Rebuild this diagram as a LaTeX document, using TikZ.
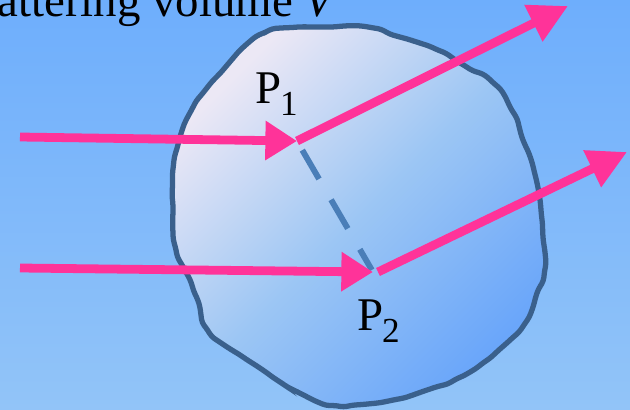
\documentclass[tikz,border=0pt]{standalone}
\usepackage{fontspec}
\setmainfont{Liberation Serif}
\usetikzlibrary{arrows.meta,decorations.pathmorphing}

\definecolor{bgtop}{RGB}{110,174,252}
\definecolor{bgbot}{RGB}{146,196,248}
\definecolor{blobtop}{RGB}{236,232,245}
\definecolor{blobmid}{RGB}{156,198,244}
\definecolor{blobbot}{RGB}{106,166,250}
\definecolor{blobedge}{RGB}{58,96,140}
\definecolor{pathline}{RGB}{74,126,184}
\definecolor{beampink}{RGB}{255,51,153}

\newcommand{\lowsub}[1]{\kern-1pt\raisebox{-0.26em}{\fontsize{30}{30}\selectfont #1}}

\begin{document}
\begin{tikzpicture}[x=0.03cm, y=-0.03cm,
    beam/.style={line width=7.5pt, draw=beampink},
    lbl/.style={inner sep=0pt, font=\fontsize{40}{48}\selectfont}]
  \useasboundingbox (0,0) rectangle (630,409);
  \shade[top color=bgtop, bottom color=bgbot] (0,0) rectangle (630,409);

  % scattering volume
  \pgfmathsetseed{7}
  \shadedraw[top color=blobtop, bottom color=blobbot, middle color=blobmid,
    shading angle=45, draw=blobedge, line width=4.5pt,
    decorate, decoration={random steps, segment length=9pt, amplitude=0.8pt},
    rounded corners=3pt]
    plot[smooth cycle, tension=0.55] coordinates {
      (237,53) (260,35) (287,28) (330,27) (367,27) (393,35) (433,48)
      (460,63) (490,80) (510,107) (523,140) (533,167) (540,200) (543,237)
      (545,267) (537,293) (527,320) (510,340) (487,360) (460,377) (427,390)
      (393,400) (367,404) (340,406) (310,398) (277,380) (243,357) (210,333)
      (199,303) (190,280) (177,253) (173,220) (173,170) (180,137) (190,113)
      (203,93) (223,70)};

  \node[lbl, anchor=base east] (title) at (338,16) {Scattering volume \textit{V}};

  \coordinate (in1) at (20,137);
  \coordinate (p1) at (297,141);
  \coordinate (out1) at (568,6);
  \coordinate (in2) at (20,268);
  \coordinate (p2) at (373,272);
  \coordinate (q2) at (378,272);
  \coordinate (out2) at (627,152);

  \draw[pathline, line width=5pt, dash pattern=on 1cm off 0.72cm,
    shorten <=9pt, shorten >=2pt] (p1) -- (p2);

  \draw[beam, -{Triangle[length=27pt, width=32pt]}] (in1) -- (p1);
  \draw[beam, -{Triangle[length=33pt, width=33pt]}] (p1) -- (out1);
  \draw[beam, -{Triangle[length=27pt, width=32pt]}] (in2) -- (p2);
  \draw[beam, -{Triangle[length=33pt, width=33pt]}] (q2) -- (out2);

  \node[lbl, anchor=base west] (p1lbl) at (255,103) {P\lowsub{1}};
  \node[lbl, anchor=base west] (p2lbl) at (357,330) {P\lowsub{2}};
\end{tikzpicture}
\end{document}
